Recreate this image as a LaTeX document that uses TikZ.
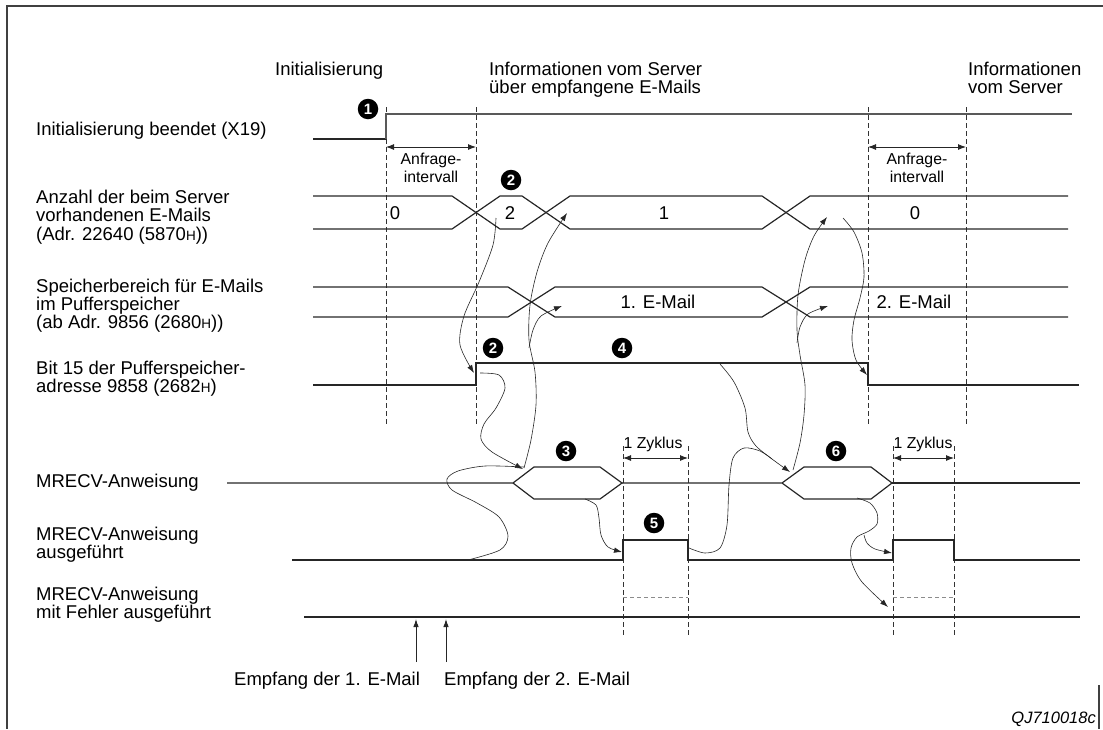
\documentclass[tikz,border=0pt]{standalone}
\usepackage{fontspec}
\setmainfont{Liberation Sans}
\usetikzlibrary{arrows.meta}
\newcommand\lbfont{\fontsize{18.5}{22}\selectfont}
\newcommand\smfont{\fontsize{15.8}{18}\selectfont}
\newcommand\hexH{{\fontsize{13.5}{13.5}\selectfont H}}
\begin{document}
\begin{tikzpicture}[x=1pt,y=-1pt,
  frame/.style={line width=1.3pt, draw=black!75},
  sig/.style={line width=1.2pt, draw=black!85, line join=miter},
  hisig/.style={line width=1.7pt, draw=black!65},
  grid/.style={line width=0.9pt, draw=black!80, dash pattern=on 5pt off 3pt},
  errdash/.style={line width=0.9pt, draw=black!45, dash pattern=on 4pt off 3pt},
  dim/.style={line width=0.9pt, draw=black!85, {Latex[length=8pt,width=6pt]}-{Latex[length=8pt,width=6pt]}},
  flow/.style={line width=0.6pt, draw=black!85, -{Latex[length=8pt,width=5.5pt]}},
  thin flow/.style={line width=0.6pt, draw=black!85},
  up/.style={line width=0.9pt, draw=black!85, -{Latex[length=8pt,width=5.5pt]}},
  lbl/.style={anchor=base west, inner sep=0pt, font=\lbfont},
  val/.style={anchor=base, inner sep=0pt, font=\lbfont},
  sml/.style={anchor=base, inner sep=0pt, font=\smfont},
  mk/.style={circle, fill=black, text=white, inner sep=0pt, minimum size=20.5pt,
             font=\fontsize{15}{15}\selectfont\bfseries}
]
\useasboundingbox (0,0) rectangle (1103,729);

% page frame
\draw[frame] (1103,6) -- (7,6) -- (7,729);
\draw[frame] (1099,685) -- (1099,729);

% phase captions
\node[lbl] (tInit) at (275,75) {Initialisierung};
\node[lbl] (tInfoA) at (489,75) {Informationen vom Server};
\node[lbl] (tInfoB) at (489,93) {über empfangene E-Mails};
\node[lbl] (tSrvA) at (968,75) {Informationen};
\node[lbl] (tSrvB) at (968,93) {vom Server};

% signal names
\node[lbl] (nX19) at (36,135) {Initialisierung beendet (X19)};
\node[lbl] (nCntA) at (36,203) {Anzahl der beim Server};
\node[lbl] (nCntB) at (36,221.5) {vorhandenen E-Mails};
\node[lbl] (nCntC) at (36,240) {(Adr. 22640 (5870\hexH))};
\node[lbl] (nBufA) at (36,292) {Speicherbereich für E-Mails};
\node[lbl] (nBufB) at (36,310) {im Pufferspeicher};
\node[lbl] (nBufC) at (36,328) {(ab Adr. 9856 (2680\hexH))};
\node[lbl] (nBitA) at (36,374) {Bit 15 der Pufferspeicher-};
\node[lbl] (nBitB) at (36,392) {adresse 9858 (2682\hexH)};
\node[lbl] (nMr) at (36,487) {MRECV-Anweisung};
\node[lbl] (nDoneA) at (36,540) {MRECV-Anweisung};
\node[lbl] (nDoneB) at (36,558) {ausgeführt};
\node[lbl] (nErrA) at (36,600) {MRECV-Anweisung};
\node[lbl] (nErrB) at (36,618) {mit Fehler ausgeführt};

% time grid
\foreach \gx in {386,476,868,966} \draw[grid] (\gx,107) -- (\gx,426);
\foreach \gx in {623,688,893,954} \draw[grid] (\gx,446) -- (\gx,635);

% X19
\draw[sig] (313,139) -- (386,139);
\draw[hisig] (386,139) -- (386,114) -- (1072,114);

% number of mails on the server
\draw[sig] (313,196) -- (452,196) -- (500,229) -- (522,229) -- (570,196) -- (762,196) -- (810,229) -- (1068,229);
\draw[sig] (313,229) -- (452,229) -- (500,196) -- (522,196) -- (570,229) -- (762,229) -- (810,196) -- (1068,196);
\node[val] (v0) at (395,219) {0};
\node[val] (v2) at (510,219) {2};
\node[val] (v1) at (664,219) {1};
\node[val] (v0b) at (915,219) {0};

% buffer memory area
\draw[sig] (313,287) -- (508,287) -- (555,317) -- (762,317) -- (810,287) -- (1068,287);
\draw[sig] (313,317) -- (508,317) -- (555,287) -- (762,287) -- (810,317) -- (1068,317);
\node[val] (m1) at (658,308.5) {1. E-Mail};
\node[val] (m2) at (914,308.5) {2. E-Mail};

% bit 15
\draw[sig] (313,385) -- (476,385) -- (476,363) -- (868,363) -- (868,385) -- (1079,385);

% MRECV instruction
\draw[sig] (227,483) -- (513,483) -- (534,467) -- (600,467) -- (622,483) -- (600,499) -- (534,499) -- (513,483);
\draw[sig] (622,483) -- (782,483) -- (804,467) -- (871,467) -- (892,483) -- (871,499) -- (804,499) -- (782,483);
\draw[sig] (892,483) -- (1080,483);

% MRECV executed
\draw[sig] (292,560) -- (623,560) -- (623,540) -- (688,540) -- (688,560) -- (893,560) -- (893,540) -- (954,540) -- (954,560) -- (1080,560);

% MRECV executed with error
\draw[sig] (304,617) -- (1080,617);
\draw[errdash] (623,597) -- (688,597);
\draw[errdash] (893,597) -- (954,597);

% interval dimensions
\draw[dim] (386,147) -- (476,147);
\draw[dim] (868,147) -- (966,147);
\node[sml] (aq1a) at (431,164) {Anfrage-};
\node[sml] (aq1b) at (431,182) {intervall};
\node[sml] (aq2a) at (917,164) {Anfrage-};
\node[sml] (aq2b) at (917,182) {intervall};
\draw[dim] (623,458) -- (688,458);
\draw[dim] (893,458) -- (954,458);
\node[sml] (cy1) at (653,448) {1 Zyklus};
\node[sml] (cy2) at (923,448) {1 Zyklus};

% step markers
\node[mk] (k1) at (368,109) {1};
\node[mk] (k2a) at (511,180) {2};
\node[mk] (k2b) at (493,348) {2};
\node[mk] (k4) at (622,348) {4};
\node[mk] (k3) at (566,451) {3};
\node[mk] (k5) at (654,523) {5};
\node[mk] (k6) at (836,451) {6};

% cause-and-effect curves
\path (496,218) coordinate (a0) (493,245) coordinate (a1) (479,282) coordinate (a2)
      (464,316) coordinate (a3) (460,345) coordinate (a4) (474,373) coordinate (a5);
\draw[flow] plot[smooth] coordinates {(a0) (a1) (a2) (a3) (a4) (a5)};

\path (480,373) coordinate (b0) (499,375) coordinate (b1) (505,388) coordinate (b2)
      (496,408) coordinate (b3) (484,424) coordinate (b4) (481,439) coordinate (b5)
      (492,452) coordinate (b6) (523,469) coordinate (b7);
\draw[flow] plot[smooth] coordinates {(b0) (b1) (b2) (b3) (b4) (b5) (b6) (b7)};

\path (468,560) coordinate (s0) (500,550) coordinate (s1) (508,536) coordinate (s2)
      (499,517) coordinate (s3) (477,503) coordinate (s4) (452,490) coordinate (s5)
      (447,479) coordinate (s6) (458,471) coordinate (s7) (485,466) coordinate (s8)
      (524,467) coordinate (s9);
\draw[thin flow] plot[smooth] coordinates {(s0) (s1) (s2) (s3) (s4) (s5) (s6) (s7) (s8) (s9)};

\path (524,468) coordinate (c0) (531,440) coordinate (c1) (536,405) coordinate (c2)
      (535,372) coordinate (c3) (529,340) coordinate (c4) (530,305) coordinate (c5)
      (537,272) coordinate (c6) (548,243) coordinate (c7) (567,213) coordinate (c8);
\draw[flow] plot[smooth] coordinates {(c0) (c1) (c2) (c3) (c4) (c5) (c6) (c7) (c8)};

\path (529,348) coordinate (d0) (533,330) coordinate (d1) (541,316) coordinate (d2)
      (562,306) coordinate (d3);
\draw[flow] plot[smooth] coordinates {(d0) (d1) (d2) (d3)};

\path (585,499) coordinate (e0) (596,505) coordinate (e1) (599,518) coordinate (e2)
      (601,535) coordinate (e3) (608,547) coordinate (e4) (622,552) coordinate (e5);
\draw[flow] plot[smooth] coordinates {(e0) (e1) (e2) (e3) (e4) (e5)};

\path (720,364) coordinate (g0) (734,382) coordinate (g1) (745,408) coordinate (g2)
      (748,432) coordinate (g3) (756,446) coordinate (g4) (772,459) coordinate (g5)
      (790,472) coordinate (g6);
\draw[flow] plot[smooth] coordinates {(g0) (g1) (g2) (g3) (g4) (g5) (g6)};

\path (689,548) coordinate (h0) (705,553) coordinate (h1) (720,548) coordinate (h2)
      (727,525) coordinate (h3) (729,485) coordinate (h4) (733,458) coordinate (h5)
      (744,448) coordinate (h6) (760,451) coordinate (h7);
\draw[thin flow] plot[smooth] coordinates {(h0) (h1) (h2) (h3) (h4) (h5) (h6) (h7) (g5)};

\path (793,470) coordinate (i0) (800,443) coordinate (i1) (804,415) coordinate (i2)
      (805,385) coordinate (i3) (800,355) coordinate (i4) (797,330) coordinate (i5)
      (798,295) coordinate (i6) (805,260) coordinate (i7) (814,236) coordinate (i8)
      (827,217) coordinate (i9);
\draw[flow] plot[smooth] coordinates {(i0) (i1) (i2) (i3) (i4) (i5) (i6) (i7) (i8) (i9)};

\path (797,343) coordinate (j0) (800,327) coordinate (j1) (808,314) coordinate (j2)
      (828,306) coordinate (j3);
\draw[flow] plot[smooth] coordinates {(j0) (j1) (j2) (j3)};

\path (843,218) coordinate (q0) (854,232) coordinate (q1) (862,253) coordinate (q2)
      (864,277) coordinate (q3) (860,298) coordinate (q4) (854,320) coordinate (q5)
      (852,340) coordinate (q6) (856,360) coordinate (q7) (867,375) coordinate (q8);
\draw[flow] plot[smooth] coordinates {(q0) (q1) (q2) (q3) (q4) (q5) (q6) (q7) (q8)};

\path (857,498) coordinate (r0) (870,503) coordinate (r1) (877,513) coordinate (r2)
      (877,524) coordinate (r3) (869,531) coordinate (r4) (857,537) coordinate (r5)
      (851,548) coordinate (r6) (852,563) coordinate (r7) (862,582) coordinate (r8)
      (888,607) coordinate (r9);
\draw[flow] plot[smooth] coordinates {(r0) (r1) (r2) (r3) (r4) (r5) (r6) (r7) (r8) (r9)};

\path (864,535) coordinate (t0) (867,543) coordinate (t1) (875,549) coordinate (t2)
      (892,553) coordinate (t3);
\draw[flow] plot[smooth] coordinates {(t0) (t1) (t2) (t3)};

% reception of the mails
\node[lbl] (rx1) at (234,685) {Empfang der 1. E-Mail};
\node[lbl] (rx2) at (444,685) {Empfang der 2. E-Mail};
\coordinate (rx1s) at (416,662);
\coordinate (rx1e) at (416,619);
\coordinate (rx2s) at (446,662);
\coordinate (rx2e) at (446,619);
\draw[up] (rx1s) -- (rx1e);
\draw[up] (rx2s) -- (rx2e);

\node[anchor=base east, inner sep=0pt, font=\fontsize{16.5}{18}\selectfont\itshape] (fig) at (1096,723) {QJ710018c};
\end{tikzpicture}
\end{document}
